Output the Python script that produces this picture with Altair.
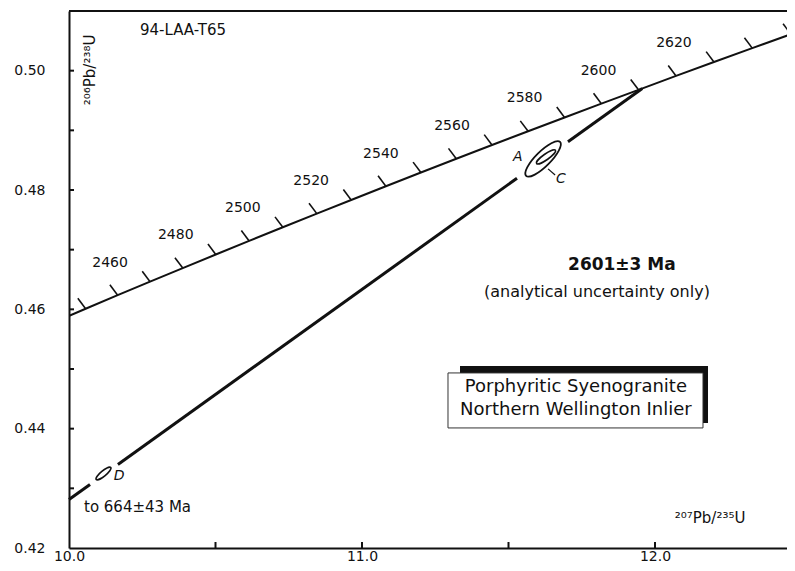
import altair as alt
import pandas as pd

FONT = "DejaVu Sans"
INK = "#111111"

# ---- concordia (ages in Ma, ratios) ----
ages = [2430, 2440, 2450, 2460, 2470, 2480, 2490, 2500, 2510, 2520, 2530, 2540,
        2550, 2560, 2570, 2580, 2590, 2600, 2610, 2620, 2630, 2640, 2650]
conc_x = [9.9483, 10.0567, 10.1661, 10.2766, 10.3882, 10.5009, 10.6148, 10.7297,
          10.8458, 10.9630, 11.0814, 11.2010, 11.3218, 11.4437, 11.5669, 11.6913,
          11.8169, 11.9437, 12.0718, 12.2012, 12.3319, 12.4638, 12.5970]
conc_y = [0.45784, 0.46010, 0.46237, 0.46464, 0.46691, 0.46919, 0.47147, 0.47375,
          0.47604, 0.47833, 0.48063, 0.48293, 0.48523, 0.48754, 0.48984, 0.49216,
          0.49447, 0.49679, 0.49912, 0.50145, 0.50378, 0.50611, 0.50845]
tick_ages = [a for a in ages if 2440 <= a <= 2640]
label_ages = [2460, 2480, 2500, 2520, 2540, 2560, 2580, 2600, 2620]

# ---- discordia segments (gaps around the ellipses) ----
disc_x = [10.0, 10.0717, 10.167, 11.529, 11.703, 11.9565]
disc_y = [0.42812, 0.43065, 0.43400, 0.48197, 0.48809, 0.49702]
disc_seg = [1, 1, 2, 2, 3, 3]

# ---- error ellipse centres ----
ellA = {"x": [11.618], "y": [0.48521]}
ellC = {"x": [11.628], "y": [0.48555]}
ellD = {"x": [10.1177], "y": [0.43249]}

# ---- axes ----
x_labels = [10.0, 11.0, 12.0]
x_ticks = [10.5, 11.0, 11.5, 12.0]
y_labels = [0.42, 0.44, 0.46, 0.48, 0.50]
y_ticks = [0.43, 0.44, 0.45, 0.46, 0.47, 0.48, 0.49, 0.50]

W, H = 718, 537
xs = alt.Scale(domain=[10.0, 12.4505], nice=False, zero=False)
ys = alt.Scale(domain=[0.42, 0.51], nice=False, zero=False)
xaxis = alt.Axis(values=x_labels, format=".1f", title=None, ticks=False, tickSize=0,
                 grid=False, domainWidth=2, domainColor=INK, labelFont=FONT,
                 labelFontSize=14, labelColor=INK, labelPadding=1,
                 labelFlush=False, labelOverlap=False)
yaxis = alt.Axis(values=y_labels, format=".2f", title=None, ticks=False, tickSize=0,
                 grid=False, domainWidth=2, domainColor=INK, labelFont=FONT,
                 labelFontSize=14, labelColor=INK, labelPadding=24,
                 labelFlush=False, labelOverlap=False)


def X(f="x"):
    return alt.X(f"{f}:Q", scale=xs, axis=xaxis)


def Y(f="y"):
    return alt.Y(f"{f}:Q", scale=ys, axis=yaxis)


conc = pd.DataFrame({"age": ages, "x": conc_x, "y": conc_y})
conc_ticks = conc[conc.age.isin(tick_ages)]
conc_labels = conc[conc.age.isin(label_ages)].assign(t=lambda d: d.age.astype(str))
disc = pd.DataFrame({"x": disc_x, "y": disc_y, "seg": disc_seg})

concordia = alt.Chart(conc).mark_line(color=INK, strokeWidth=2, clip=True).encode(
    x=X(), y=Y(), order="age:Q")
ctick = alt.Chart(conc_ticks).mark_point(
    shape="M0,0L-0.6,-0.8", size=676, filled=False, color=INK, strokeWidth=1.6,
    opacity=1, clip=True).encode(x=X(), y=Y())
clab = alt.Chart(conc_labels).mark_text(
    font=FONT, fontSize=14, color=INK, dx=-40, dy=-19).encode(x=X(), y=Y(), text="t:N")
discordia = alt.Chart(disc).mark_line(color=INK, strokeWidth=3, strokeCap="butt").encode(
    x=X(), y=Y(), detail="seg:N")


def ell_path(k):
    c = 0.5523
    return (f"M1,0 C1,{c*k:.4f} {c},{k} 0,{k} C{-c},{k} -1,{c*k:.4f} -1,0 "
            f"C-1,{-c*k:.4f} {-c},{-k} 0,{-k} C{c},{-k} 1,{-c*k:.4f} 1,0 Z")


eA = alt.Chart(pd.DataFrame(ellA)).mark_point(
    shape=ell_path(0.31), size=2304, angle=315, filled=False, color=INK,
    strokeWidth=1.8, opacity=1).encode(x=X(), y=Y())
eC = alt.Chart(pd.DataFrame(ellC)).mark_point(
    shape=ell_path(0.25), size=529, angle=325, filled=False, color=INK,
    strokeWidth=1.6, opacity=1).encode(x=X(), y=Y())
eD = alt.Chart(pd.DataFrame(ellD)).mark_point(
    shape=ell_path(0.28), size=353, angle=321, filled=False, color=INK,
    strokeWidth=1.6, opacity=1).encode(x=X(), y=Y())

leader = alt.Chart(pd.DataFrame({"x": [11.635], "y": [0.48354],
                                 "x2": [11.659], "y2": [0.48253]})).mark_rule(
    color=INK, strokeWidth=1.3).encode(x=X(), y=Y(), x2="x2:Q", y2="y2:Q")

# inward axis ticks
yt = alt.Chart(pd.DataFrame({"x": [10.0] * len(y_ticks), "y": y_ticks})).mark_point(
    shape="M0,0L1,0", size=100, filled=False, color=INK, strokeWidth=2, opacity=1
).encode(x=X(), y=Y())
xt = alt.Chart(pd.DataFrame({"x": x_ticks, "y": [0.42] * len(x_ticks)})).mark_point(
    shape="M0,0L0,-1", size=144, filled=False, color=INK, strokeWidth=2, opacity=1
).encode(x=X(), y=Y())

top_border = alt.Chart(pd.DataFrame({"a": [0]})).mark_rule(
    color=INK, strokeWidth=2).encode(x=alt.value(0), x2=alt.value(W), y=alt.value(0))

# labels for the error ellipses
ell_lab = alt.Chart(pd.DataFrame({"x": [11.532, 11.679, 10.171],
                                  "y": [0.48555, 0.48186, 0.43207],
                                  "t": ["A", "C", "D"]})).mark_text(
    font=FONT, fontSize=14, fontStyle="italic", color=INK).encode(x=X(), y=Y(), text="t:N")


# text annotations
def txt(x, y, t, **kw):
    props = dict(font=FONT, fontSize=15, color=INK)
    props.update(kw)
    return alt.Chart(pd.DataFrame({"x": [x], "y": [y], "t": [t]})).mark_text(
        **props).encode(x=X(), y=Y(), text="t:N")


sample = txt(10.2423, 0.50684, "94-LAA-T65", align="left")
ytitle = txt(10.0717, 0.50013, "²⁰⁶Pb/²³⁸U", angle=270)
xtitle = txt(12.188, 0.42503, "²⁰⁷Pb/²³⁵U")
age = txt(11.887, 0.46744, "2601±3 Ma", fontSize=17, fontWeight="bold")
note = txt(11.802, 0.46292, "(analytical uncertainty only)", fontSize=16)
lower = txt(10.0512, 0.42687, "to 664±43 Ma", align="left")

shadow = alt.Chart(pd.DataFrame({"x": [11.3345], "x2": [12.1809],
                                 "y": [0.45051], "y2": [0.44096]})).mark_rect(
    color=INK).encode(x=X(), x2="x2:Q", y=Y(), y2="y2:Q")
box = alt.Chart(pd.DataFrame({"x": [11.2935], "x2": [12.1638],
                              "y": [0.44934], "y2": [0.44012]})).mark_rect(
    fill="white", stroke="#333333", strokeWidth=1).encode(x=X(), x2="x2:Q", y=Y(), y2="y2:Q")
box1 = txt(11.730, 0.44699, "Porphyritic Syenogranite", fontSize=18)
box2 = txt(11.730, 0.44313, "Northern Wellington Inlier", fontSize=18)

chart = alt.layer(
    concordia, ctick, clab, discordia, eA, eC, eD, leader, ell_lab,
    yt, xt, top_border, sample, ytitle, xtitle, age, note, lower,
    shadow, box, box1, box2
).properties(
    width=W, height=H,
    autosize=alt.AutoSizeParams(type="none"),
    padding={"left": 61, "top": 3, "right": 0, "bottom": 15},
).configure_view(stroke=None)

chart.save("out.html", embed_options={"renderer": "svg", "actions": False})
